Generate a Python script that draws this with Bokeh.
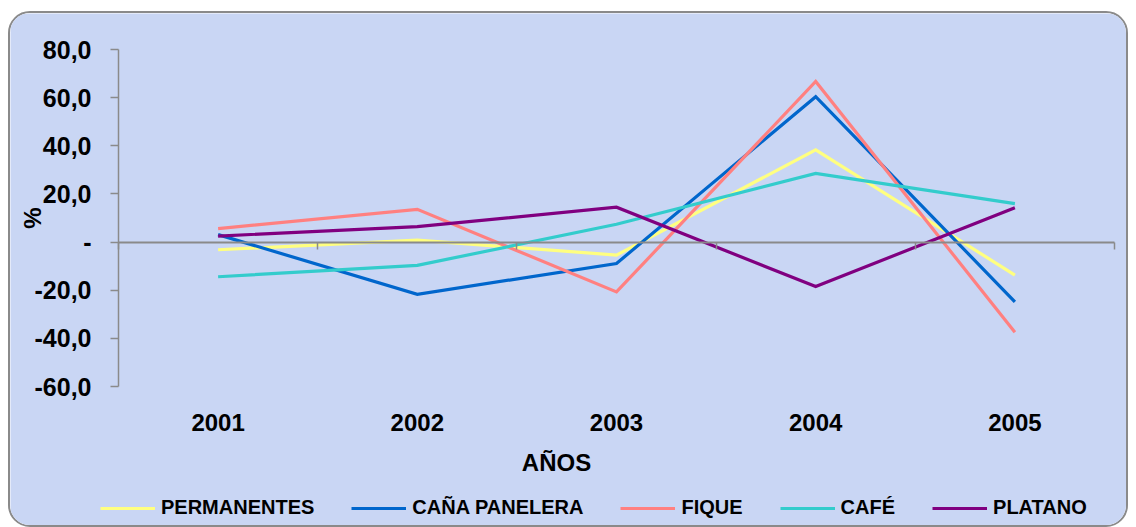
from bokeh.plotting import figure
from bokeh.models import Range1d, FixedTicker, LinearAxis, Legend, LegendItem, Label
from bokeh.embed import file_html
from bokeh.resources import INLINE

# ---- data ----
years = [2001, 2002, 2003, 2004, 2005]
permanentes = [-3.2, 0.8, -5.4, 38.3, -13.7]
cana_panelera = [3.1, -21.7, -8.9, 60.4, -24.8]
fique = [5.6, 13.6, -20.7, 66.7, -37.5]
cafe = [-14.4, -9.7, 7.4, 28.5, 16.0]
platano = [2.5, 6.4, 14.5, -18.5, 14.3]
series_names = ["PERMANENTES", "CAÑA PANELERA", "FIQUE", "CAFÉ", "PLATANO"]
series_colors = ["#FFFF80", "#0066CC", "#FF8080", "#33CCCC", "#800080"]
y_ticks = [-60, -40, -20, 0, 20, 40, 60, 80]
y_tick_labels = ["-60,0", "-40,0", "-20,0", "-", "20,0", "40,0", "60,0", "80,0"]
x_title = "AÑOS"
y_title = "%"

FONT = "Liberation Sans"
BG = "#c9d6f4"
GREY = "#8a8a8a"

# canvas geometry (pixels): the plotting area occupies the whole canvas so
# that the legend below the axes is not clipped
W, H = 1120, 516
AL, AR, AT, AB = 108, 1104, 36, 373      # extent of the drawn axes
xpp = (AR - AL) / len(years)
ypp = (AB - AT) / (y_ticks[-1] - y_ticks[0])
x_start = years[0] - 0.5 - AL / xpp
x_end = years[-1] + 0.5 + (W - AR) / xpp
y_end = y_ticks[-1] + AT / ypp
y_start = y_ticks[0] - (H - AB) / ypp

p = figure(width=W, height=H, output_backend="svg", toolbar_location=None,
           x_axis_type=None, y_axis_type=None,
           x_range=Range1d(x_start, x_end), y_range=Range1d(y_start, y_end),
           min_border=0, min_border_left=0, min_border_right=0,
           min_border_top=0, min_border_bottom=0)
p.background_fill_color = BG
p.border_fill_color = BG
p.outline_line_color = None
p.styles = {"margin-left": "8px", "margin-top": "11px",
            "border": "2px solid #8a8a8a", "border-radius": "22px", "overflow": "hidden"}

x_lo, x_hi = years[0] - 0.5, years[-1] + 0.5

# y axis
yaxis = LinearAxis(ticker=FixedTicker(ticks=y_ticks), fixed_location=x_lo,
                   bounds=(y_ticks[0], y_ticks[-1]),
                   major_label_overrides={t: l for t, l in zip(y_ticks, y_tick_labels)})
yaxis.axis_line_color = GREY
yaxis.axis_line_width = 1.5
yaxis.major_tick_line_color = GREY
yaxis.major_tick_line_width = 1.5
yaxis.major_tick_out = 8
yaxis.major_tick_in = 0
yaxis.minor_tick_line_color = None
yaxis.major_label_standoff = 19
yaxis.major_label_text_font = FONT
yaxis.major_label_text_font_style = "bold"
yaxis.major_label_text_font_size = "25px"
yaxis.major_label_text_color = "black"
yaxis.axis_label = y_title
yaxis.axis_label_text_font = FONT
yaxis.axis_label_text_font_style = "bold"
yaxis.axis_label_text_font_size = "24px"
yaxis.axis_label_text_color = "black"
yaxis.axis_label_standoff = -14
p.add_layout(yaxis, "left")

# x axis with year labels (below the plotting area)
xaxis = LinearAxis(ticker=FixedTicker(ticks=years), fixed_location=y_ticks[0])
xaxis.axis_line_color = None
xaxis.major_tick_line_color = None
xaxis.minor_tick_line_color = None
xaxis.major_tick_out = 0
xaxis.major_tick_in = 0
xaxis.major_label_standoff = 27
xaxis.major_label_text_font = FONT
xaxis.major_label_text_font_style = "bold"
xaxis.major_label_text_font_size = "24px"
xaxis.major_label_text_color = "black"
p.add_layout(xaxis, "below")

# zero line axis with ticks between categories
bounds = [y - 0.5 for y in years] + [years[-1] + 0.5]
zaxis = LinearAxis(ticker=FixedTicker(ticks=bounds), fixed_location=0,
                   bounds=(x_lo, x_hi))
zaxis.axis_line_color = GREY
zaxis.axis_line_width = 2
zaxis.major_tick_line_color = GREY
zaxis.major_tick_line_width = 1.5
zaxis.major_tick_in = 7
zaxis.major_tick_out = 0
zaxis.minor_tick_line_color = None
zaxis.major_label_overrides = {b: "" for b in bounds}
zaxis.major_label_standoff = 0
p.add_layout(zaxis, "above")

# x axis title
title = Label(x=years[2] - 60 / xpp, y=y_ticks[0] - 76 / ypp, text=x_title,
              text_align="center", text_baseline="middle", text_font=FONT,
              text_font_style="bold", text_font_size="24px", text_color="black")
p.add_layout(title)

items = []
for name, vals, col in zip(series_names, [permanentes, cana_panelera, fique, cafe, platano], series_colors):
    r = p.line(years, vals, line_color=col, line_width=3.2, line_join="miter")
    items.append(LegendItem(label=name, renderers=[r]))

legend = Legend(items=items, orientation="horizontal", location=(90, 10),
                glyph_width=55, glyph_height=20, label_height=20, label_standoff=6,
                spacing=37, padding=0, margin=0, border_line_color=None,
                background_fill_alpha=0, label_text_font=FONT,
                label_text_font_style="bold", label_text_font_size="20px",
                label_text_color="black")
p.add_layout(legend)

open("out.html", "w").write(file_html(p, INLINE))
